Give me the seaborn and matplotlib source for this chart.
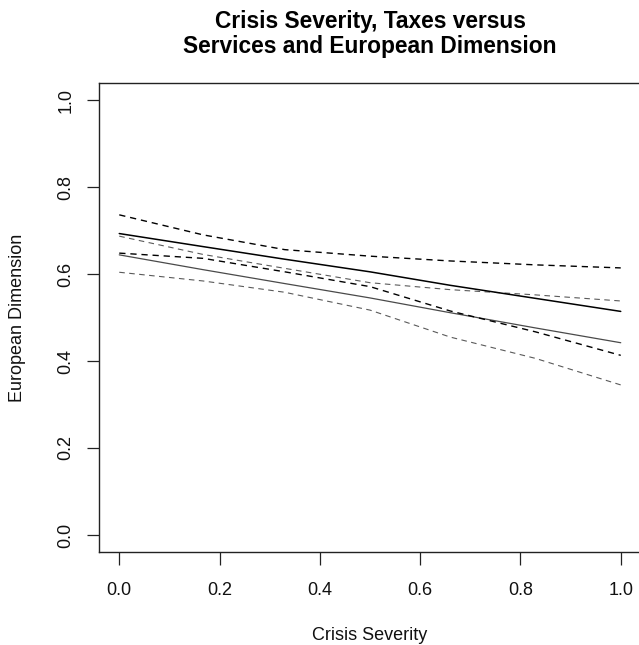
import numpy as np
import pandas as pd
import matplotlib
matplotlib.use("Agg")
import matplotlib.pyplot as plt
import seaborn as sns

# ---- data ----
severity = [0.0, 0.167, 0.33, 0.5, 0.66, 0.83, 1.0]
taxes_fit = [0.693, 0.663, 0.634, 0.605, 0.574, 0.544, 0.514]
taxes_upper = [0.736, 0.690, 0.656, 0.641, 0.630, 0.621, 0.614]
taxes_lower = [0.648, 0.636, 0.605, 0.571, 0.515, 0.467, 0.413]
services_fit = [0.644, 0.610, 0.578, 0.545, 0.511, 0.476, 0.442]
services_upper = [0.687, 0.645, 0.613, 0.580, 0.564, 0.552, 0.538]
services_lower = [0.604, 0.584, 0.558, 0.517, 0.455, 0.406, 0.345]

x_ticks = [0.0, 0.2, 0.4, 0.6, 0.8, 1.0]
y_ticks = [0.0, 0.2, 0.4, 0.6, 0.8, 1.0]

title = "Crisis Severity, Taxes versus\nServices and European Dimension"
x_label = "Crisis Severity"
y_label = "European Dimension"

sns.set_style("white")
plt.rcParams["font.family"] = ["Liberation Sans", "DejaVu Sans"]

W, H = 639, 645
fig = plt.figure(figsize=(W / 100, H / 100), dpi=100)
ax = fig.add_axes([99.2 / W, 1 - 552.4 / H, (640.8 - 99.2) / W, (552.4 - 82.6) / H])

series = [
    (services_upper, "#5a5a5a", 0.8, (0, (5, 4))),
    (services_lower, "#5a5a5a", 0.8, (0, (5, 4))),
    (services_fit, "#4a4a4a", 0.9, "-"),
    (taxes_upper, "#000000", 1.0, (0, (4.5, 3.5))),
    (taxes_lower, "#000000", 1.0, (0, (4.5, 3.5))),
    (taxes_fit, "#000000", 1.1, "-"),
]
for vals, col, lw, ls in series:
    df = pd.DataFrame({"x": severity, "y": vals})
    sns.lineplot(data=df, x="x", y="y", ax=ax, color=col, linewidth=lw,
                 linestyle=ls, estimator=None, sort=True)

ax.set_xlim(-0.04, 1.04)
ax.set_ylim(-0.04, 1.04)
ax.set_xticks(x_ticks)
ax.set_yticks(y_ticks)
ax.set_xticklabels([f"{v:.1f}" for v in x_ticks])
ax.set_yticklabels([f"{v:.1f}" for v in y_ticks], rotation=90, va="center")

for s in ax.spines.values():
    s.set_visible(True)
    s.set_color("#222222")
    s.set_linewidth(1.0)

ax.tick_params(axis="both", which="major", direction="out", length=9,
               width=0.9, color="#222222", labelsize=13, labelcolor="#111111",
               bottom=True, left=True)
ax.tick_params(axis="x", pad=12)
ax.tick_params(axis="y", pad=9)

ax.set_xlabel("")
ax.set_ylabel("")
fig.text(370 / W, 1 - 635 / H, x_label, ha="center", va="center", fontsize=13, color="#111111")
fig.text(18 / W, 1 - 317.5 / H, y_label, ha="center", va="center", rotation=90,
         fontsize=13, color="#111111")
fig.text(370 / W, 1 - 34 / H, title, ha="center", va="center", fontsize=16.4,
         fontweight="bold", linespacing=1.08, color="#000000")

fig.savefig("out.png", dpi=100, facecolor="white")
